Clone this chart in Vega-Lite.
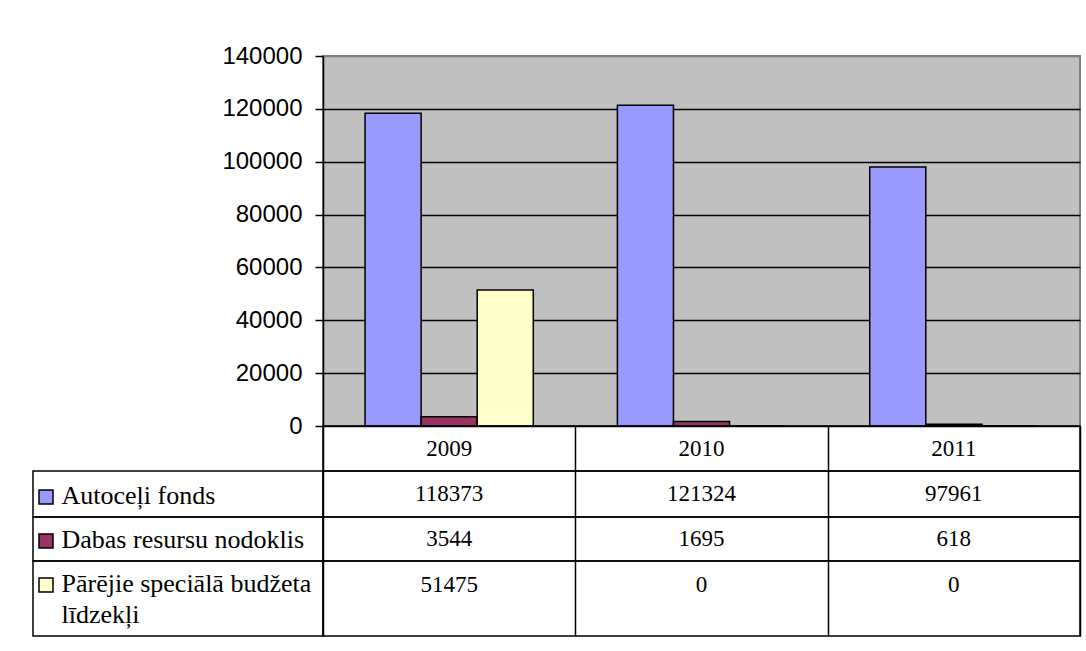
{
  "$schema": "https://vega.github.io/schema/vega-lite/v6.json",
  "autosize": {"type": "pad"},
  "padding": {"left": 32, "top": 43, "right": 5, "bottom": 5},
  "background": "white",
  "columns": 2,
  "spacing": 0,
  "align": "each",
  "bounds": "flush",
  "resolve": {"scale": {"x": "independent", "y": "independent"}},
  "datasets": {
    "d": [
      {"year": "2009", "series": "Autoceļi fonds", "value": 118373},
      {"year": "2010", "series": "Autoceļi fonds", "value": 121324},
      {"year": "2011", "series": "Autoceļi fonds", "value": 97961},
      {"year": "2009", "series": "Dabas resursu nodoklis", "value": 3544},
      {"year": "2010", "series": "Dabas resursu nodoklis", "value": 1695},
      {"year": "2011", "series": "Dabas resursu nodoklis", "value": 618},
      {"year": "2009", "series": "Pārējie speciālā budžeta līdzekļi", "value": 51475},
      {"year": "2010", "series": "Pārējie speciālā budžeta līdzekļi", "value": 0},
      {"year": "2011", "series": "Pārējie speciālā budžeta līdzekļi", "value": 0}
    ]
  },
  "config": {
    "font": "Liberation Serif",
    "axis": {"labelColor": "black", "labelFont": "Liberation Serif"},
    "text": {"font": "Liberation Serif"}
  },
  "concat": [
    {"width": 290, "height": 370, "data": {"values": [{}]}, "mark": {"type": "text", "text": ""}, "view": {"stroke": null}},
    {
      "width": 757,
      "height": 370,
      "data": {"name": "d"},
      "mark": {"type": "bar", "stroke": "black", "strokeWidth": 1.5},
      "encoding": {
        "x": {"field": "year", "type": "nominal", "scale": {"type": "band", "paddingInner": 0, "paddingOuter": 0}, "axis": null},
        "xOffset": {"field": "series", "type": "nominal", "sort": ["Autoceļi fonds", "Dabas resursu nodoklis", "Pārējie speciālā budžeta līdzekļi"], "scale": {"paddingInner": 0, "paddingOuter": 0.75}},
        "y": {
          "field": "value", "type": "quantitative",
          "scale": {"domain": [0, 140000], "nice": false},
          "axis": {
            "title": null,
            "values": [0, 20000, 40000, 60000, 80000, 100000, 120000, 140000],
            "format": "d",
            "grid": true,
            "gridColor": {"condition": {"test": "datum.value === 140000", "value": "#808080"}, "value": "black"},
            "gridWidth": 1.5,
            "domainColor": "black", "domainWidth": 1.5,
            "tickColor": "black", "tickSize": 8, "tickWidth": 1.5,
            "labelFont": "Liberation Sans", "labelFontSize": 24, "labelColor": "black", "labelPadding": 13
          }
        },
        "color": {
          "field": "series", "type": "nominal",
          "scale": {"domain": ["Autoceļi fonds", "Dabas resursu nodoklis", "Pārējie speciālā budžeta līdzekļi"], "range": ["#9999FF", "#993366", "#FFFFCC"]},
          "legend": {
            "orient": "none", "legendX": 5, "legendY": 433, "title": null,
            "symbolType": "square", "symbolSize": 196, "symbolStrokeColor": "black", "symbolStrokeWidth": 1.5, "symbolOpacity": 1,
            "labelExpr": "''", "rowPadding": 24, "padding": 0
          }
        }
      },
      "view": {"fill": "#C0C0C0", "stroke": "#808080", "strokeWidth": 2}
    },
    {"width": 290, "height": 45, "data": {"values": [{}]}, "mark": {"type": "text", "text": ""}, "view": {"stroke": null}},
    {
      "width": 757, "height": 45,
      "data": {"name": "d"},
      "transform": [{"filter": "datum.series === 'Autoceļi fonds'"}],
      "mark": {"type": "text", "font": "Liberation Serif", "fontSize": 23, "color": "black"},
      "encoding": {
        "x": {"field": "year", "type": "nominal", "scale": {"type": "band", "paddingInner": 0, "paddingOuter": 0},
              "axis": {"title": null, "labels": false, "ticks": false, "domain": false, "grid": true, "tickBand": "extent", "gridColor": "black", "gridWidth": 1.5}},
        "text": {"field": "year", "type": "nominal"}
      },
      "view": {"stroke": "black", "strokeWidth": 1.5}
    },
    {"width": 290, "height": 46, "data": {"values": [{}]}, "mark": {"type": "text", "text": ""}, "view": {"stroke": "black", "strokeWidth": 1.5}},
    {
      "width": 757, "height": 46,
      "data": {"name": "d"},
      "transform": [{"filter": "datum.series === 'Autoceļi fonds'"}],
      "mark": {"type": "text", "font": "Liberation Serif", "fontSize": 23, "color": "black"},
      "encoding": {
        "x": {"field": "year", "type": "nominal", "scale": {"type": "band", "paddingInner": 0, "paddingOuter": 0},
              "axis": {"title": null, "labels": false, "ticks": false, "domain": false, "grid": true, "tickBand": "extent", "gridColor": "black", "gridWidth": 1.5}},
        "y": {"field": "series", "type": "nominal", "scale": {"type": "band", "paddingInner": 0, "paddingOuter": 0},
              "axis": {"title": null, "labelAlign": "left", "labelPadding": 262, "ticks": false, "domain": false, "grid": false, "labelFont": "Liberation Serif", "labelFontSize": 26, "labelColor": "black", "labelLimit": 400, "labelOffset": 2}},
        "text": {"field": "value", "type": "quantitative", "format": "d"}
      },
      "view": {"stroke": "black", "strokeWidth": 1.5}
    },
    {"width": 290, "height": 44, "data": {"values": [{}]}, "mark": {"type": "text", "text": ""}, "view": {"stroke": "black", "strokeWidth": 1.5}},
    {
      "width": 757, "height": 44,
      "data": {"name": "d"},
      "transform": [{"filter": "datum.series === 'Dabas resursu nodoklis'"}],
      "mark": {"type": "text", "font": "Liberation Serif", "fontSize": 23, "color": "black"},
      "encoding": {
        "x": {"field": "year", "type": "nominal", "scale": {"type": "band", "paddingInner": 0, "paddingOuter": 0},
              "axis": {"title": null, "labels": false, "ticks": false, "domain": false, "grid": true, "tickBand": "extent", "gridColor": "black", "gridWidth": 1.5}},
        "y": {"field": "series", "type": "nominal", "scale": {"type": "band", "paddingInner": 0, "paddingOuter": 0},
              "axis": {"title": null, "labelAlign": "left", "labelPadding": 262, "ticks": false, "domain": false, "grid": false, "labelFont": "Liberation Serif", "labelFontSize": 26, "labelColor": "black", "labelLimit": 400, "labelOffset": 1}},
        "text": {"field": "value", "type": "quantitative", "format": "d"}
      },
      "view": {"stroke": "black", "strokeWidth": 1.5}
    },
    {"width": 290, "height": 75, "data": {"values": [{}]}, "mark": {"type": "text", "text": ""}, "view": {"stroke": "black", "strokeWidth": 1.5}},
    {
      "width": 757, "height": 75,
      "data": {"name": "d"},
      "transform": [{"filter": "datum.series === 'Pārējie speciālā budžeta līdzekļi'"}],
      "mark": {"type": "text", "font": "Liberation Serif", "fontSize": 23, "color": "black", "dy": -14},
      "encoding": {
        "x": {"field": "year", "type": "nominal", "scale": {"type": "band", "paddingInner": 0, "paddingOuter": 0},
              "axis": {"title": null, "labels": false, "ticks": false, "domain": false, "grid": true, "tickBand": "extent", "gridColor": "black", "gridWidth": 1.5}},
        "y": {"field": "series", "type": "nominal", "scale": {"type": "band", "paddingInner": 0, "paddingOuter": 0},
              "axis": {"title": null, "labelAlign": "left", "labelPadding": 262, "ticks": false, "domain": false, "grid": false, "labelFont": "Liberation Serif", "labelFontSize": 26, "labelColor": "black", "labelLimit": 400,
                       "labelLineHeight": 31, "labelOffset": -15,
                       "labelExpr": "datum.value === 'Pārējie speciālā budžeta līdzekļi' ? ['Pārējie speciālā budžeta', 'līdzekļi'] : datum.value"}},
        "text": {"field": "value", "type": "quantitative", "format": "d"}
      },
      "view": {"stroke": "black", "strokeWidth": 1.5}
    }
  ]
}
